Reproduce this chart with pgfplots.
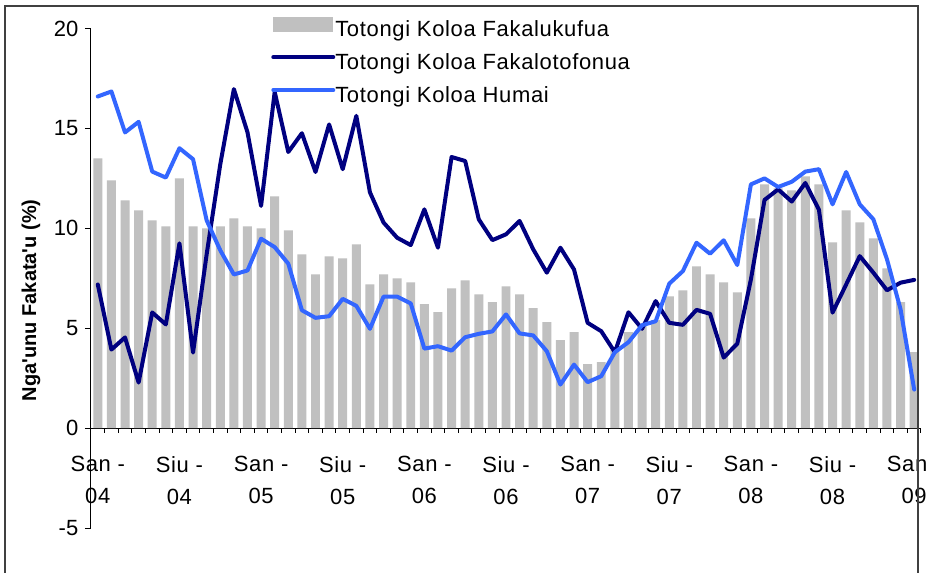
\documentclass[border=0pt]{standalone}
\usepackage{pgfplots}
\pgfplotsset{compat=1.18}
\usepackage{pgfplotstable}
\usepackage{fontspec}
\setmainfont{Liberation Sans}
\newfontfamily\spaced[LetterSpace=3]{Liberation Sans}
\definecolor{bargray}{HTML}{C0C0C0}
\definecolor{darkline}{HTML}{000080}
\definecolor{lightline}{HTML}{3366FF}
\pgfplotstableread{
x bar dom imp
0 13.5 7.19 16.6
1 12.4 3.93 16.85
2 11.4 4.54 14.8
3 10.9 2.28 15.33
4 10.4 5.79 12.84
5 10.1 5.19 12.54
6 12.5 9.25 14.01
7 10.1 3.78 13.46
8 10.0 8.7 10.4
9 10.1 13.2 8.9
10 10.5 16.97 7.69
11 10.1 14.81 7.89
12 10.0 11.12 9.48
13 11.6 16.83 9.06
14 9.9 13.82 8.23
15 8.7 14.76 5.9
16 7.7 12.82 5.52
17 8.6 15.2 5.6
18 8.5 12.96 6.47
19 9.2 15.63 6.12
20 7.2 11.8 4.97
21 7.7 10.29 6.58
22 7.5 9.53 6.58
23 7.3 9.16 6.24
24 6.2 10.95 3.98
25 5.8 9.03 4.1
26 7.0 13.57 3.88
27 7.4 13.37 4.55
28 6.7 10.45 4.72
29 6.3 9.41 4.84
30 7.1 9.7 5.69
31 6.7 10.37 4.74
32 6.0 8.95 4.64
33 5.3 7.78 3.85
34 4.4 9.03 2.18
35 4.8 7.94 3.18
36 3.2 5.27 2.3
37 3.3 4.85 2.6
38 3.9 3.8 3.8
39 4.8 5.8 4.3
40 5.1 4.97 5.15
41 5.4 6.36 5.35
42 6.6 5.27 7.23
43 6.9 5.17 7.86
44 8.1 5.92 9.28
45 7.7 5.72 8.73
46 7.3 3.53 9.4
47 6.8 4.23 8.16
48 10.5 7.44 12.2
49 12.2 11.42 12.5
50 12.0 11.95 12.07
51 11.9 11.34 12.33
52 12.6 12.27 12.84
53 12.2 10.93 12.96
54 9.3 5.78 11.2
55 10.9 7.19 12.82
56 10.3 8.61 11.2
57 9.5 7.78 10.45
58 8.0 6.9 8.45
59 6.3 7.28 5.94
60 3.8 7.42 1.93
}\datatable
\begin{document}
\begin{tikzpicture}
\clip (0,0) rectangle (696pt,-429pt);
\fill[white] (0,0) rectangle (696pt,-429pt);
\begin{axis}[
  at={(68.25pt,-396pt)}, anchor=south west,
  scale only axis, width=622.5pt, height=374.6pt,
  xmin=-0.5, xmax=60.5, ymin=-5, ymax=20,
  axis y line=left, axis x line=middle,
  hide obscured x ticks=false, hide obscured y ticks=false,
  x axis line style={-}, y axis line style={-},
  axis line style={line width=0.75pt, black},
  ytick={-5,0,...,20},
  ytick align=outside, xtick align=outside,
  major tick length=4.5pt, minor tick length=3.5pt,
  xtick={0,6,...,60},
  xticklabels={San -\\04, Siu -\\04, San -\\05, Siu -\\05, San -\\06, Siu -\\06, San -\\07, Siu -\\07, San -\\08, Siu -\\08, San -\\09},
  minor xtick={-0.5,0.5,...,60.5},
  major x tick style={draw=none},
  tick style={black, line width=0.75pt},
  /pgf/number format/assume math mode=true,
  yticklabel style={font=\fontsize{16.5}{20}\selectfont, xshift=-1.5pt},
  xticklabel style={align=center, font=\spaced\fontsize{16.5}{24}\selectfont, anchor=north, yshift=-13pt},
  every axis y label/.style={at={(axis description cs:-0.0723,0.456)}, anchor=center, rotate=90, font=\bfseries\fontsize{15}{18}\selectfont},
  ylabel={Nga\textquotesingle unu Fakata\textquotesingle u (\%)},
  legend style={at={(axis description cs:0.2169,1.023)}, anchor=north west, draw=none, fill=none, inner sep=0pt, font=\spaced\fontsize{16.5}{20}\selectfont, row sep=11.2pt, nodes={inner sep=0pt}, /tikz/every even column/.append style={column sep=4.5pt}},
  legend cell align=left,
]
\addplot[ybar, bar width=0.66, fill=bargray, draw=none,
  legend image code/.code={\fill[bargray] (0pt,-2.25pt) rectangle (45pt,9pt);}]
  table[x=x, y=bar] {\datatable};
\addlegendentry{Totongi Koloa Fakalukufua}
\addplot[darkline, line width=3pt, line join=round, line cap=round, mark=none,
  legend image code/.code={\draw[darkline, line width=3pt, line cap=round] (0pt,3.75pt) -- (45pt,3.75pt);}]
  table[x=x, y=dom] {\datatable};
\addlegendentry{Totongi Koloa Fakalotofonua}
\addplot[lightline, line width=3pt, line join=round, line cap=round, mark=none,
  legend image code/.code={\draw[lightline, line width=3pt, line cap=round] (0pt,3.75pt) -- (45pt,3.75pt);}]
  table[x=x, y=imp] {\datatable};
\addlegendentry{Totongi Koloa Humai}
\end{axis}
\draw[line width=1.5pt, black!75] (3.75pt,-440pt) -- (3.75pt,-4.5pt) -- (688.5pt,-4.5pt) -- (688.5pt,-440pt);
\end{tikzpicture}
\end{document}
